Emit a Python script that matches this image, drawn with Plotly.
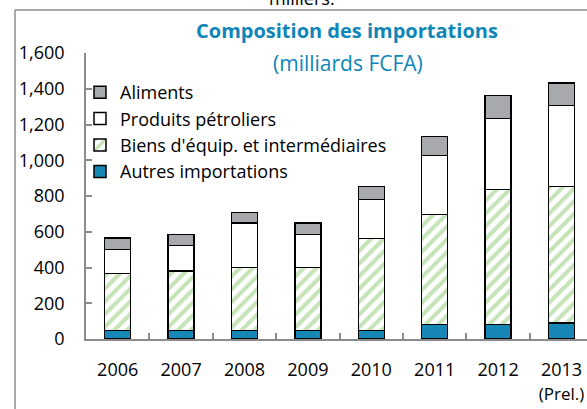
import plotly.graph_objects as go

years = ["2006", "2007", "2008", "2009", "2010", "2011", "2012",
         "2013<br><span style='font-size:17px'>(Prel.)</span>"]
autres = [48, 48, 48, 48, 48, 80, 80, 90]
biens = [319, 332, 352, 352, 514, 617, 755, 762]
petroliers = [135, 144, 250, 184, 219, 331, 399, 453]
aliments = [64, 62, 59, 64, 71, 105, 127, 128]

W, H = 587, 409
L, R, T, B = 86, 0, 53, 409 - 339
pw, ph = W - L - R, H - T - B

def px(x):
    return (x - L) / pw

def py(y):
    return (H - B - y) / ph

FONT = "Open Sans"
line = dict(color="black", width=1.5)

fig = go.Figure()
fig.add_trace(go.Bar(x=years, y=autres, name="Autres importations", legendgroup="a",
                     marker=dict(color="#1787B5", line=line)))
fig.add_trace(go.Bar(x=years, y=biens, name="Biens d'équip. et intermédiaires", legendgroup="b",
                     marker=dict(color="white", line=line,
                                 pattern=dict(shape="/", fgcolor="#8CC870", bgcolor="white",
                                              size=9, solidity=0.45))))
fig.add_trace(go.Bar(x=years, y=petroliers, name="Produits pétroliers", legendgroup="c",
                     marker=dict(color="white", line=line)))
fig.add_trace(go.Bar(x=years, y=aliments, name="Aliments", legendgroup="d",
                     marker=dict(color="#A7A9AC", line=line)))

fig.update_layout(
    width=W, height=H,
    margin=dict(l=L, r=R, t=T, b=B, pad=0, autoexpand=False),
    barmode="stack", bargap=0.59,
    paper_bgcolor="white", plot_bgcolor="white",
    font=dict(family=FONT, size=18, color="black"),
    showlegend=True,
    legend=dict(x=px(80), y=py(74), xanchor="left", yanchor="top",
                traceorder="reversed", tracegroupgap=7,
                bgcolor="rgba(0,0,0,0)", font=dict(size=18, family=FONT)),
    xaxis=dict(range=[-0.5, pw / 63.4 - 0.5], showgrid=False, automargin=False,
               showline=True, linecolor="#8C8C8C", linewidth=1.5,
               ticks="inside", ticklen=6, tickcolor="#8C8C8C", tickwidth=1.5,
               tickson="boundaries", ticklabelstandoff=14,
               tickfont=dict(size=18, family=FONT)),
    yaxis=dict(range=[0, 1600], dtick=200, tickformat=",", showgrid=False, automargin=False,
               showline=True, linecolor="#8C8C8C", linewidth=1.5,
               ticks="inside", ticklen=6, tickcolor="#8C8C8C", tickwidth=1.5,
               ticklabelstandoff=16, zeroline=False,
               tickfont=dict(size=18, family=FONT)),
    annotations=[
        dict(text="<b>Composition des importations</b>", xref="paper", yref="paper",
             x=px(347), y=py(30), xanchor="center", yanchor="middle", showarrow=False,
             font=dict(size=20, color="#0E86B8", family=FONT)),
        dict(text="(milliards FCFA)", xref="paper", yref="paper",
             x=px(348), y=py(63), xanchor="center", yanchor="middle", showarrow=False,
             font=dict(size=21, color="#0E86B8", family=FONT)),
        dict(text="milliers.", xref="paper", yref="paper",
             x=px(302), y=py(-2), xanchor="center", yanchor="middle", showarrow=False,
             font=dict(size=18, color="black", family=FONT)),
    ],
    shapes=[
        dict(type="line", xref="paper", yref="paper", x0=px(15), x1=px(15),
             y0=py(10), y1=py(420), line=dict(color="#8C8C8C", width=1.5)),
        dict(type="line", xref="paper", yref="paper", x0=px(15), x1=px(600),
             y0=py(10), y1=py(10), line=dict(color="#8C8C8C", width=1.5)),
    ],
)

fig.write_html("out.html", config={"displayModeBar": False},
               post_script="document.body.style.margin='0px';")
